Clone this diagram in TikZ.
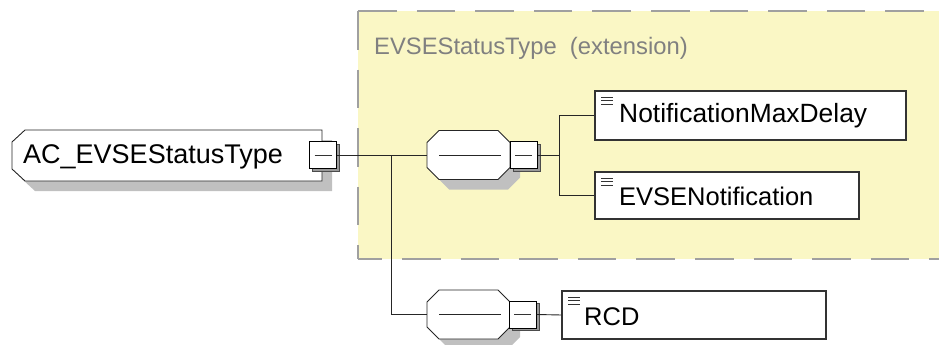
\documentclass[tikz,border=0pt]{standalone}
\usepackage{fontspec}
\setmainfont{Liberation Sans}
\definecolor{extyellow}{RGB}{250,247,197}
\definecolor{shadowgray}{RGB}{192,192,192}
\definecolor{dashgray}{RGB}{160,160,160}
\definecolor{titlegray}{RGB}{128,128,128}
\begin{document}
\begin{tikzpicture}[x=1pt,y=-1pt,
  conn/.style={draw=black!85,line width=0.9pt},
  outl/.style={draw=black!85,line width=0.9pt},
  dashb/.style={draw=dashgray,line width=2pt,dash pattern=on 38.6pt off 20pt},
  lbl/.style={anchor=base west,inner sep=0pt,font=\fontsize{25.5}{30}\selectfont},
  anchorbox/.style={rectangle,draw=none,inner sep=0pt},
  elem/.style={rectangle,draw=black!80,fill=white,line width=1.1pt,inner sep=0pt,
    path picture={
      \foreach \dy in {6,9.5,13}{
        \draw[black!80,line width=0.7pt] ([shift={(6,\dy)}]path picture bounding box.north west) -- ([shift={(18,\dy)}]path picture bounding box.north west);}}},
  pics/seqshape/.style={code={
    \fill[shadowgray,shift={(10,10)}] (-29.5,-24.5) -- (29.5,-24.5) -- (41.5,-12.5) -- (41.5,12.5) -- (29.5,24.5) -- (-29.5,24.5) -- (-41.5,12.5) -- (-41.5,-12.5) -- cycle;
    \draw[outl,fill=white] (-29.5,-24.5) -- (29.5,-24.5) -- (41.5,-12.5) -- (41.5,12.5) -- (29.5,24.5) -- (-29.5,24.5) -- (-41.5,12.5) -- (-41.5,-12.5) -- cycle;
    \draw[outl] (-29.5,0) -- (32.5,0);
  }},
  pics/mainshape/.style={code={
    \fill[shadowgray,shift={(10,10)}] (-142,-25.5) -- (155,-25.5) -- (155,25.5) -- (-142,25.5) -- (-155,13.5) -- (-155,-13.5) -- cycle;
    \draw[outl,fill=white] (-142,-25.5) -- (155,-25.5) -- (155,25.5) -- (-142,25.5) -- (-155,13.5) -- (-155,-13.5) -- cycle;
  }},
  pics/minusshape/.style={code={
    \draw[black!70,fill=black!40,line width=0.6pt] (-11,-11) rectangle (16,16);
    \draw[black,fill=white,line width=0.9pt] (-13.5,-13.5) rectangle (13.5,13.5);
    \draw[black!80,line width=0.9pt] (-8.5,0) -- (8.5,0);
  }}
]
\useasboundingbox (0,0) rectangle (939,345);
% extension area
\fill[extyellow] (358,11) rectangle (941,259);
\draw[dashb] (358,11) -- (941,11);
\draw[dashb] (358,11) -- (358,259);
\draw[dashb,dash phase=14.6pt] (358,259) -- (941,259);
\node[lbl,text=titlegray,font=\fontsize{23.8}{30}\selectfont] (title) at (374,55) {EVSEStatusType\ \ (extension)};

% main element
\node[anchorbox,minimum width=310pt,minimum height=51pt] (main) at (167,155.5) {};
\pic at (main.center) {mainshape};
\node[lbl,font=\fontsize{27}{30}\selectfont] (maint) at (23,163) {AC\_EVSEStatusType};
\node[anchorbox,minimum width=27pt,minimum height=27pt] (mbox) at (323,155) {};
\pic at (mbox.center) {minusshape};

% first sequence
\node[anchorbox,minimum width=83pt,minimum height=49pt] (seq1) at (468.5,155) {};
\pic at (seq1.center) {seqshape};
\node[anchorbox,minimum width=27pt,minimum height=27pt,anchor=west] (sbox1) at (seq1.east) {};
\pic at (sbox1.center) {minusshape};

% second sequence
\node[anchorbox,minimum width=83pt,minimum height=49pt] (seq2) at (468.5,314.5) {};
\pic at (seq2.center) {seqshape};
\node[anchorbox,minimum width=27pt,minimum height=27pt,anchor=west] (sbox2) at ([xshift=-1pt]seq2.east) {};
\pic at (sbox2.center) {minusshape};

% elements
\node[elem,minimum width=311pt,minimum height=49pt] (nmd) at (750.5,115.5) {};
\node[lbl,font=\fontsize{26.4}{30}\selectfont] (nmdt) at (619,122) {NotificationMaxDelay};
\node[elem,minimum width=264pt,minimum height=47pt] (evn) at (727,195.5) {};
\node[lbl] (evnt) at (619,205) {EVSENotification};
\node[elem,minimum width=264pt,minimum height=48pt] (rcd) at (694,315) {};
\node[lbl] (rcdt) at (584,325) {RCD};

% connectors
\coordinate (j1) at (391,155);
\coordinate (j2) at (559,155);
\draw[conn] (mbox.east) -- (seq1.west);
\draw[conn] (j1) |- (seq2.west);
\draw[conn] (sbox1.east) -- (j2);
\draw[conn] (j2) |- (nmd.west);
\draw[conn] (j2) |- (evn.west);
\draw[conn] (sbox2.east) -- (rcd.west);
\end{tikzpicture}
\end{document}
